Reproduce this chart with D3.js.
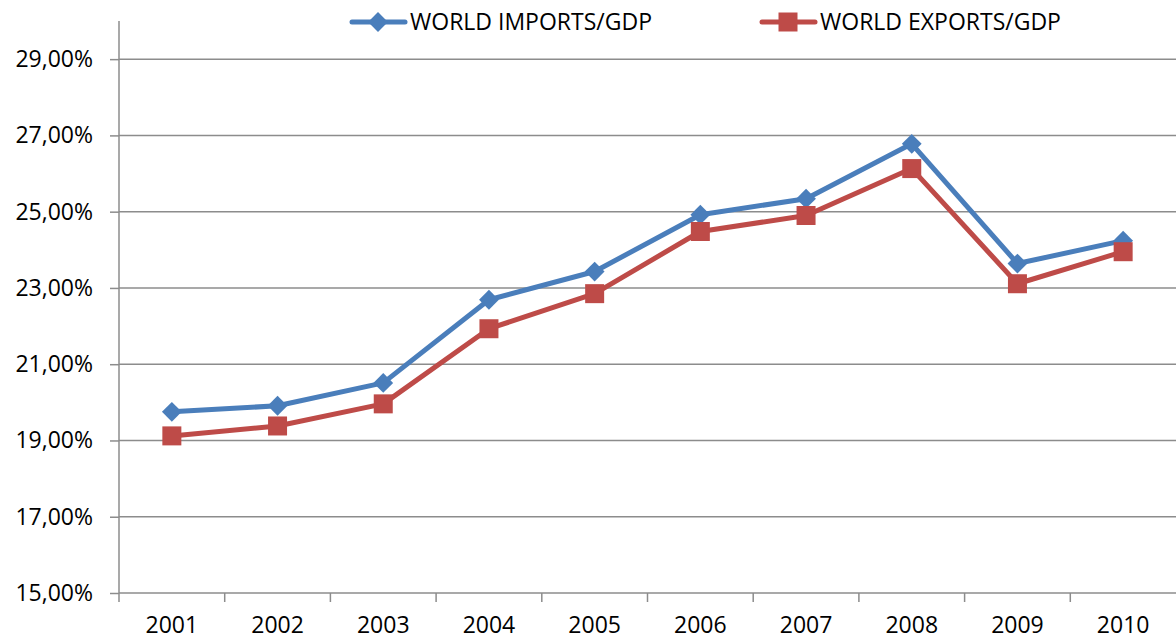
<!DOCTYPE html>
<html><head><meta charset="utf-8">
<script src="https://cdn.jsdelivr.net/npm/d3@7"></script>
<style>body{margin:0;background:#fff}svg{display:block}text{font-family:"Open Sans","Liberation Sans",sans-serif}</style>
</head><body><svg id="c" width="1176" height="640"></svg>
<script>
const years = ["2001","2002","2003","2004","2005","2006","2007","2008","2009","2010"];
const imports = [19.75,19.91,20.51,22.69,23.43,24.92,25.34,26.78,23.64,24.24];
const exports = [19.12,19.38,19.96,21.93,22.85,24.48,24.90,26.13,23.11,23.95];
const yTicks = [15,17,19,21,23,25,27,29];
const seriesNames = ["WORLD IMPORTS/GDP","WORLD EXPORTS/GDP"];

const svg = d3.select("#c");
const L = 119, R = 1176, T = 21, B = 593;
const x = d3.scaleBand().domain(years).range([L, R]);
const y = d3.scaleLinear().domain([15, 30]).range([B, T]);
const grid = "#8c8c8c";
const FS = 23;

// gridlines
svg.append("g").selectAll("line").data(yTicks.filter(d=>d>15)).join("line")
  .attr("x1", L).attr("x2", R).attr("y1", d=>y(d)).attr("y2", d=>y(d))
  .attr("stroke", grid).attr("stroke-width", 1.5);

// y axis
const yAx = svg.append("g").attr("transform", `translate(${L},0)`)
  .call(d3.axisLeft(y).tickValues(yTicks).tickSize(9).tickPadding(17)
    .tickFormat(d => d3.format(".2f")(d).replace(".", ",") + "%"));
yAx.select(".domain").attr("stroke", grid).attr("stroke-width", 1.5).attr("d", `M-0,${T}V${B}`);
yAx.selectAll(".tick line").attr("stroke", grid).attr("stroke-width", 1.5);
yAx.selectAll("text").attr("font-size", FS).attr("fill", "#000");

// x axis
const xAx = svg.append("g").attr("transform", `translate(0,${B})`)
  .call(d3.axisBottom(x).tickSize(0).tickPadding(24));
xAx.select(".domain").attr("stroke", grid).attr("stroke-width", 1.5).attr("d", `M${L},0H${R}`);
xAx.selectAll("text").attr("font-size", FS).attr("fill", "#000");
svg.append("g").selectAll("line").data(years).join("line")
  .attr("x1", d=>x(d)).attr("x2", d=>x(d)).attr("y1", B).attr("y2", B+9)
  .attr("stroke", grid).attr("stroke-width", 1.5);

const cx = d => x(d) + x.bandwidth()/2;
const colors = ["#4a7ebb", "#be4b48"];
const data = [imports, exports];
const line = d3.line().x((d,i)=>cx(years[i])).y(d=>y(d));

data.forEach((vals, s) => {
  svg.append("path").datum(vals).attr("d", line).attr("fill","none")
    .attr("stroke", colors[s]).attr("stroke-width", 5).attr("stroke-linejoin","round");
});
const diamond = d3.symbol().type(d3.symbolSquare).size(196)();
const square = d3.symbol().type(d3.symbolSquare).size(361)();
svg.append("g").selectAll("path").data(imports).join("path")
  .attr("d", diamond).attr("fill", colors[0])
  .attr("transform", (d,i)=>`translate(${cx(years[i])},${y(d)}) rotate(45)`);
svg.append("g").selectAll("path").data(exports).join("path")
  .attr("d", square).attr("fill", colors[1])
  .attr("transform", (d,i)=>`translate(${cx(years[i])},${y(d)})`);

// legend
const leg = [{x:350, name:seriesNames[0], c:colors[0], sym:diamond, rot:45},
             {x:760, name:seriesNames[1], c:colors[1], sym:square, rot:0}];
leg.forEach(l => {
  const g = svg.append("g");
  g.append("line").attr("x1", l.x+2).attr("x2", l.x+55).attr("y1", 22).attr("y2", 22)
    .attr("stroke", l.c).attr("stroke-width", 5).attr("stroke-linecap","round");
  g.append("path").attr("d", l.sym).attr("fill", l.c)
    .attr("transform", `translate(${l.x+28},22) rotate(${l.rot})`);
  g.append("text").attr("x", l.x+60).attr("y", 30).attr("font-size", FS).attr("fill","#000").text(l.name);
});
</script></body></html>
